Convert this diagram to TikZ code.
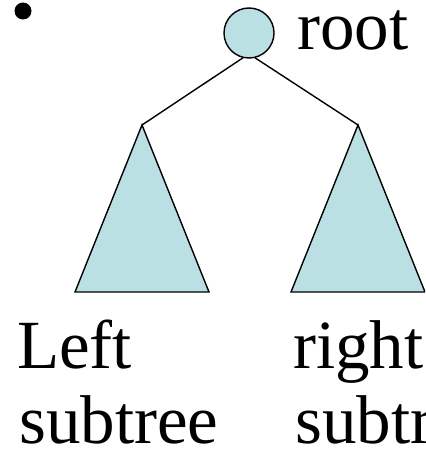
\documentclass[tikz,border=0pt]{standalone}
\usepackage{fontspec}
\setmainfont{Liberation Serif}
\definecolor{treefill}{HTML}{BBE0E3}
\begin{document}
\begin{tikzpicture}[x=1pt,y=-1pt,
  edge/.style={line width=1.4pt},
  tri/.style={fill=treefill,draw=black,line width=1.4pt,line join=miter},
  lbl/.style={anchor=base west,inner sep=0pt,font=\fontsize{69}{80}\selectfont}]
\useasboundingbox (0,0) rectangle (425,457);
\clip (0,0) rectangle (425,457);
\fill (23,11) circle (8.5);
\node[circle,draw=black,fill=treefill,line width=1.4pt,minimum size=50pt,inner sep=0pt] (root) at (249,33) {};
\node[lbl] (rootlbl) at (297,50) {root};
\coordinate (la) at (142,125);
\coordinate (ra) at (358,125);
\draw[edge] (root.-104) -- (la);
\draw[edge] (root.-76) -- (ra);
\draw[tri] (la) -- (75,292) -- (209,292) -- cycle;
\draw[tri] (ra) -- (291,292) -- (425,292) -- cycle;
\node[lbl] (left1) at (17,368) {Left};
\node[lbl] (left2) at (19,443) {subtree};
\node[lbl] (right1) at (293,368) {right};
\node[lbl] (right2) at (295,443) {subtree};
\end{tikzpicture}
\end{document}
